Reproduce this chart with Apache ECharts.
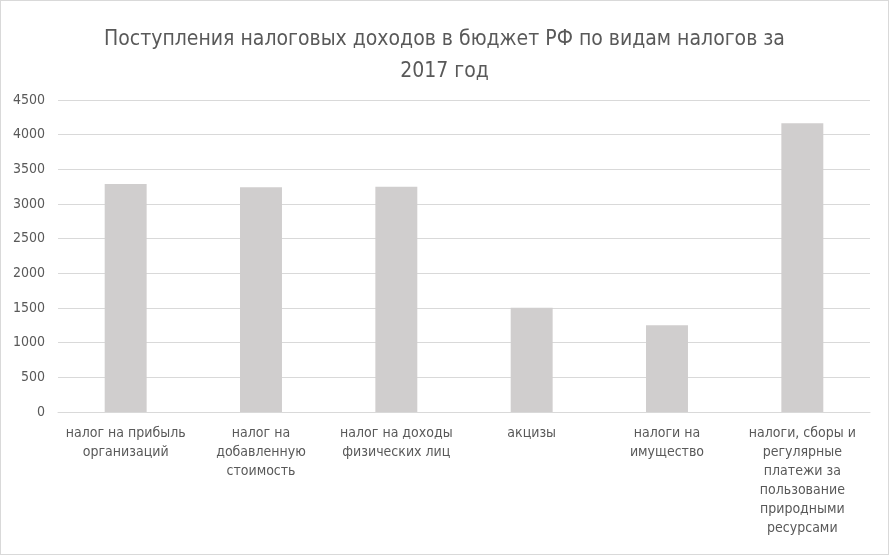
<!DOCTYPE html>
<html>
<head>
<meta charset="utf-8">
<script src="https://cdn.jsdelivr.net/npm/echarts@6/dist/echarts.min.js"></script>
<style>
  html, body { margin: 0; padding: 0; background: #fff; }
  #chart { width: 887px; height: 553px; border: 1px solid #d9d9d9; }
</style>
</head>
<body>
<div id="chart"></div>
<script>
// Категории (с переносами как на исходной диаграмме)
var categories = [
    'налог на прибыль\nорганизаций',
    'налог на\nдобавленную\nстоимость',
    'налог на доходы\nфизических лиц',
    'акцизы',
    'налоги на\nимущество',
    'налоги, сборы и\nрегулярные\nплатежи за\nпользование\nприродными\nресурсами'
];
// Поступления, млрд руб.
var values = [3290, 3240, 3250, 1505, 1250, 4165];
var yTicks = [0, 500, 1000, 1500, 2000, 2500, 3000, 3500, 4000, 4500];

var font = '"Liberation Sans Narrow", "DejaVu Sans Condensed", "Noto Sans", sans-serif';
var chart = echarts.init(document.getElementById('chart'));
var option = {
    backgroundColor: '#fff',
    title: {
        text: 'Поступления налоговых доходов в бюджет РФ по видам налогов за\n2017 год',
        left: 'center',
        top: 18,
        textStyle: {
            fontFamily: font,
            fontSize: 21,
            fontWeight: 'normal',
            color: '#595959',
            lineHeight: 32
        }
    },
    grid: {
        left: 57,
        right: 18,
        top: 99,
        bottom: 142
    },
    xAxis: {
        type: 'category',
        data: categories,
        axisLine: { lineStyle: { color: '#d9d9d9', width: 1 } },
        axisTick: { show: false },
        axisLabel: {
            interval: 0,
            margin: 12,
            fontFamily: font,
            fontSize: 14,
            lineHeight: 19,
            color: '#595959'
        }
    },
    yAxis: {
        type: 'value',
        min: yTicks[0],
        max: yTicks[yTicks.length - 1],
        interval: 500,
        axisLine: { show: false },
        axisTick: { show: false },
        splitLine: { lineStyle: { color: '#d9d9d9', width: 1 } },
        axisLabel: {
            margin: 13,
            fontFamily: font,
            fontSize: 14,
            color: '#595959',
            formatter: function (v) { return String(v); }
        }
    },
    series: [{
        type: 'bar',
        data: values,
        barWidth: '31%',
        itemStyle: { color: '#d0cece' },
        silent: true
    }]
};
chart.setOption(option);
</script>
</body>
</html>
